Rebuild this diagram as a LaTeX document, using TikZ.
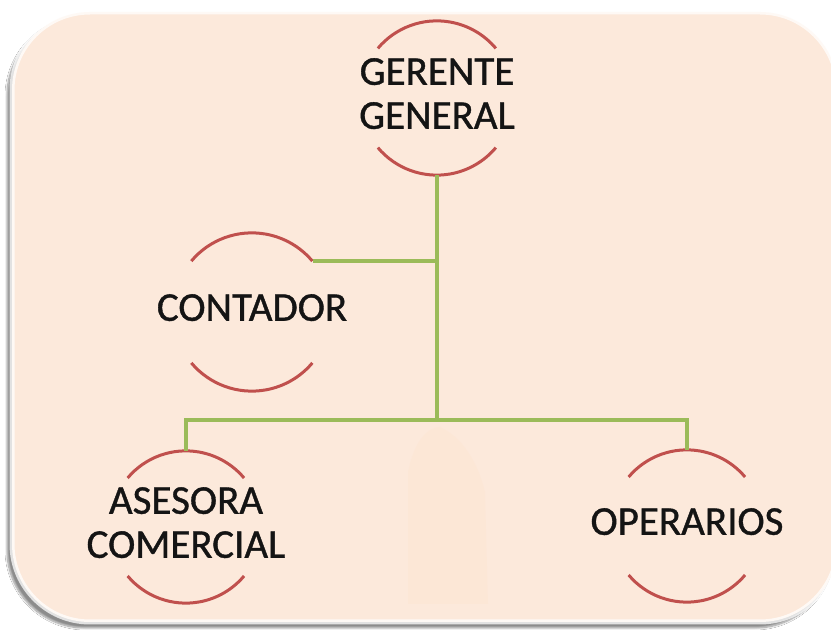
\documentclass[tikz,border=0pt]{standalone}
\usepackage{fontspec}
\setmainfont{Carlito}
\newfontfamily\labfont[FakeBold=0.9]{Carlito}
\usetikzlibrary{shadows.blur}
\definecolor{panel}{HTML}{FCE9DB}
\definecolor{refl}{HTML}{FDE4CF}
\definecolor{arcred}{HTML}{C0504D}
\definecolor{lgreen}{HTML}{9BBB59}
\definecolor{ink}{HTML}{141414}
\newcommand\lbl[1]{\makebox[0pt]{\begin{tabular}{@{}c@{}}#1\end{tabular}}}
\tikzset{
  unit/.style={circle, minimum size=#1, inner sep=0pt,
    font=\labfont\fontsize{41}{44}\selectfont, text=ink},
  arcline/.style={draw=arcred, line width=3pt},
  link/.style={draw=lgreen, line width=4pt},
}
\begin{document}
\begin{tikzpicture}[x=1pt,y=1pt]
\useasboundingbox (0,0) rectangle (831,632);
\fill[white] (0,0) rectangle (831,632);
% panel
\path[fill=panel, rounded corners=78pt,
  blur shadow={shadow xshift=-5pt, shadow yshift=-6pt, shadow blur steps=10, shadow opacity=45}]
  (12,10) rectangle (838,620);
\draw[white, line width=5pt, opacity=0.75, rounded corners=78pt] (12,10) rectangle (838,620);
% faint reflection
\fill[refl, opacity=0.35] (408,28) -- (408,160) .. controls (415,195) and (430,205) .. (440,205)
  .. controls (462,195) and (478,170) .. (485,140) -- (488,28) -- cycle;
% nodes
\node[unit=154pt] (gg) at (437,534) {\lbl{GERENTE\\GENERAL}};
\node[unit=158pt] (cont) at (252,320) {\lbl{CONTADOR}};
\node[unit=152pt] (ase) at (186,105) {\lbl{ASESORA\\COMERCIAL}};
\node[unit=152pt] (ope) at (687,106) {\lbl{OPERARIOS}};
% arcs
\foreach \n/\r in {gg/77, cont/79, ase/76, ope/76}{
  \draw[arcline] (\n.140) arc[start angle=140, end angle=40, radius=\r pt];
  \draw[arcline] (\n.-140) arc[start angle=-140, end angle=-40, radius=\r pt];
}
% connectors
\coordinate (j) at (437,212);
\draw[link] (gg.south) -- (j);
\draw[link] (cont.40) -- (cont.40 -| gg.south);
\draw[link] (ase.north) |- (j) -| (ope.north);
\end{tikzpicture}
\end{document}
